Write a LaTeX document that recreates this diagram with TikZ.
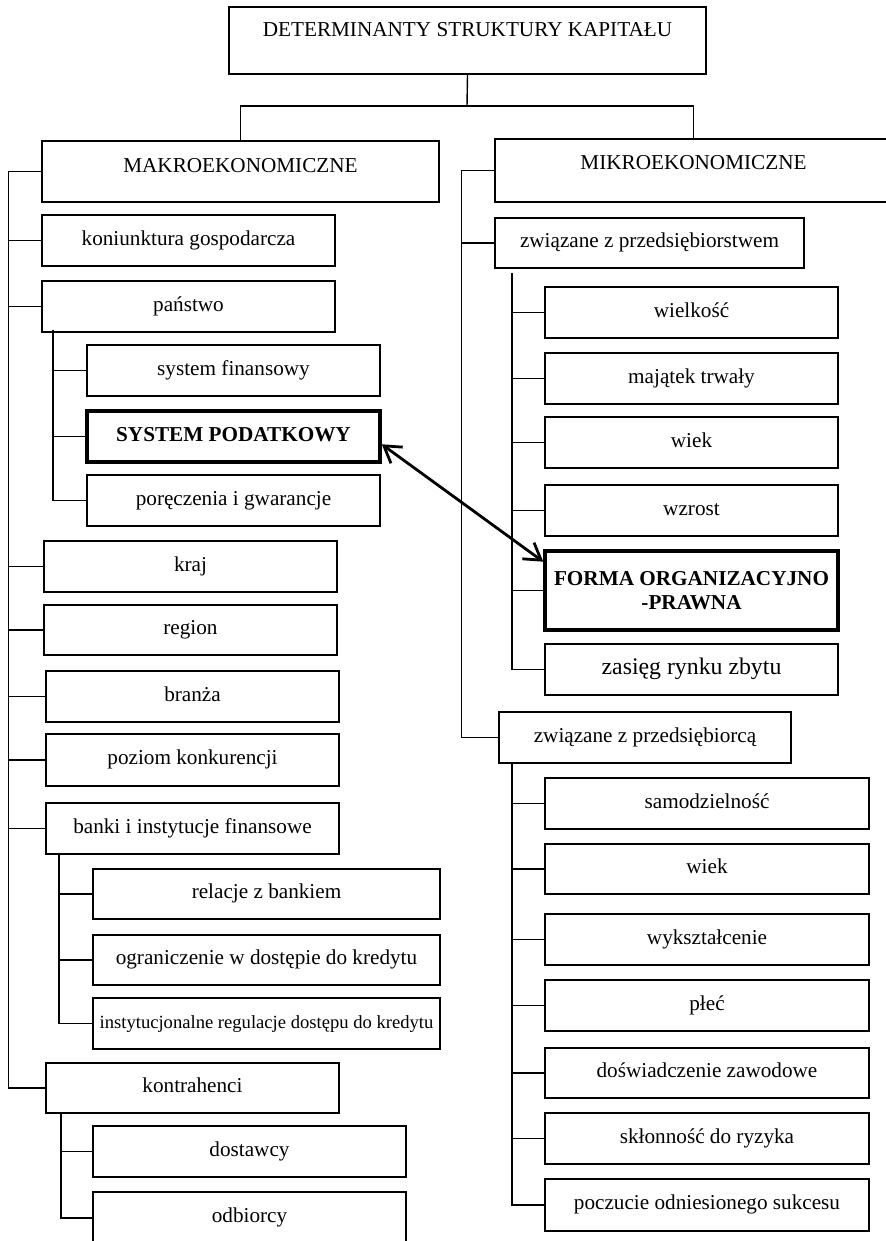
\documentclass[tikz,border=0pt]{standalone}
\usepackage{fontspec}
\setmainfont{Liberation Serif}
\usetikzlibrary{arrows.meta}
\newcommand{\labbox}[7][]{
\node[box,#1,minimum width={(#5-#3)*0.5pt},minimum height={(#6-#4)*0.5pt}] (#2) at ({.5*#3+.5*#5},{.5*#4+.5*#6}) {#7};
}
\begin{document}
\begin{tikzpicture}[x=0.5pt,y=-0.5pt,
  box/.style={draw,line width=0.75pt,inner sep=0pt,text height=7.4pt,text depth=2.6pt,font=\fontsize{10.6}{12}\selectfont},
  key/.style={line width=1.75pt,font=\fontsize{10.6}{12}\selectfont\bfseries},
  head/.style={text height=7pt,text depth=#1},
  link/.style={line width=0.7pt},
  arr/.style={line width=1.4pt,>={Straight Barb[length=8pt,width=10pt]},<->}]
\useasboundingbox (0,0) rectangle (885,1241);
\labbox[head=10.5pt]{top}{229}{7}{706}{74}{DETERMINANTY STRUKTURY KAPITAŁU}
\labbox[head=6pt]{makro}{42}{141}{439}{202}{MAKROEKONOMICZNE}
\labbox[head=8pt]{mikro}{495}{139}{892}{202}{MIKROEKONOMICZNE}
% makro
\labbox{konj}{42}{215}{335}{266}{koniunktura gospodarcza}
\labbox{panstwo}{42}{281}{335}{332}{państwo}
\labbox{sysfin}{87}{345}{380}{396}{system finansowy}
\labbox[key]{podatk}{87}{411}{380}{462}{SYSTEM PODATKOWY}
\labbox{porecz}{87}{475}{380}{526}{poręczenia i gwarancje}
\labbox{kraj}{44}{541}{337}{592}{kraj}
\labbox{region}{44}{605}{337}{655}{region}
\labbox{branza}{46}{671}{339}{722}{branża}
\labbox{poziom}{46}{734}{339}{786}{poziom konkurencji}
\labbox{banki}{46}{803}{339}{854}{banki i instytucje finansowe}
\labbox{relacje}{93}{869}{440}{919}{relacje z bankiem}
\labbox{ogran}{93}{935}{440}{985}{ograniczenie w dostępie do kredytu}
\labbox[font=\fontsize{9.3}{11}\selectfont]{instyt}{93}{998}{440}{1049}{instytucjonalne regulacje dostępu do kredytu}
\labbox{kontr}{46}{1063}{339}{1113}{kontrahenci}
\labbox{dostawcy}{93}{1126}{406}{1177}{dostawcy}
\labbox{odbiorcy}{93}{1192}{406}{1244}{odbiorcy}
% mikro
\labbox{zfirm}{495}{218}{804}{268}{związane z przedsiębiorstwem}
\labbox{wielkosc}{545}{287}{838}{338}{wielkość}
\labbox{majatek}{545}{353}{838}{404}{majątek trwały}
\labbox{wiekf}{545}{417}{838}{468}{wiek}
\labbox{wzrost}{545}{485}{838}{536}{wzrost}
\labbox[key,align=center,text height=,text depth=]{forma}{545}{551}{838}{630}{FORMA ORGANIZACYJNO\\-PRAWNA}
\labbox[font=\fontsize{11.9}{14}\selectfont]{zasieg}{545}{644}{838}{695}{zasięg rynku zbytu}
\labbox{zosoba}{499}{712}{791}{763}{związane z przedsiębiorcą}
\labbox{samodz}{545}{778}{869}{829}{samodzielność}
\labbox{wieko}{545}{844}{869}{894}{wiek}
\labbox{wyksz}{545}{914}{869}{965}{wykształcenie}
\labbox{plec}{545}{980}{869}{1031}{płeć}
\labbox{dosw}{545}{1048}{869}{1098}{doświadczenie zawodowe}
\labbox{sklon}{545}{1113}{869}{1164}{skłonność do ryzyka}
\labbox{poczucie}{545}{1179}{869}{1231}{poczucie odniesionego sukcesu}
% top split
\coordinate (split) at (467,106);
\draw[link] (top.south) -- (split);
\draw[link] (makro.north) |- (split) -| (mikro.north);
% left trunk
\draw[link] (makro.west) -- ++(-33,0) coordinate (lt);
\draw[link] (lt) |- (konj.west);
\draw[link] (lt) |- (panstwo.west);
\draw[link] (lt) |- (kraj.west);
\draw[link] (lt) |- (region.west);
\draw[link] (lt) |- (branza.west);
\draw[link] (lt) |- (poziom.west);
\draw[link] (lt) |- (banki.west);
\draw[link] (lt) |- (kontr.west);
\coordinate (pt) at (53,330);
\draw[link] (pt) |- (sysfin.west);
\draw[link] (pt) |- (podatk.west);
\draw[link] (pt) |- (porecz.west);
\coordinate (bt) at (59,854);
\draw[link] (bt) |- (relacje.west);
\draw[link] (bt) |- (ogran.west);
\draw[link] (bt) |- (instyt.west);
\coordinate (kt) at (61,1113);
\draw[link] (kt) |- (dostawcy.west);
\draw[link] (kt) |- (odbiorcy.west);
% right trunk
\draw[link] (mikro.west) -- ++(-33,0) coordinate (rt);
\draw[link] (rt) |- (zfirm.west);
\draw[link] (rt) |- (zosoba.west);
\coordinate (ft) at (512,273);
\draw[link] (ft) |- (wielkosc.west);
\draw[link] (ft) |- (majatek.west);
\draw[link] (ft) |- (wiekf.west);
\draw[link] (ft) |- (wzrost.west);
\draw[link] (ft) |- (forma.west);
\draw[link] (ft) |- (zasieg.west);
\coordinate (ot) at (512,763);
\draw[link] (ot) |- (samodz.west);
\draw[link] (ot) |- (wieko.west);
\draw[link] (ot) |- (wyksz.west);
\draw[link] (ot) |- (plec.west);
\draw[link] (ot) |- (dosw.west);
\draw[link] (ot) |- (sklon.west);
\draw[link] (ot) |- (poczucie.west);
% podatki <-> forma
\draw[arr] (podatk.-3.7) -- (forma.169.5);
\end{tikzpicture}
\end{document}
